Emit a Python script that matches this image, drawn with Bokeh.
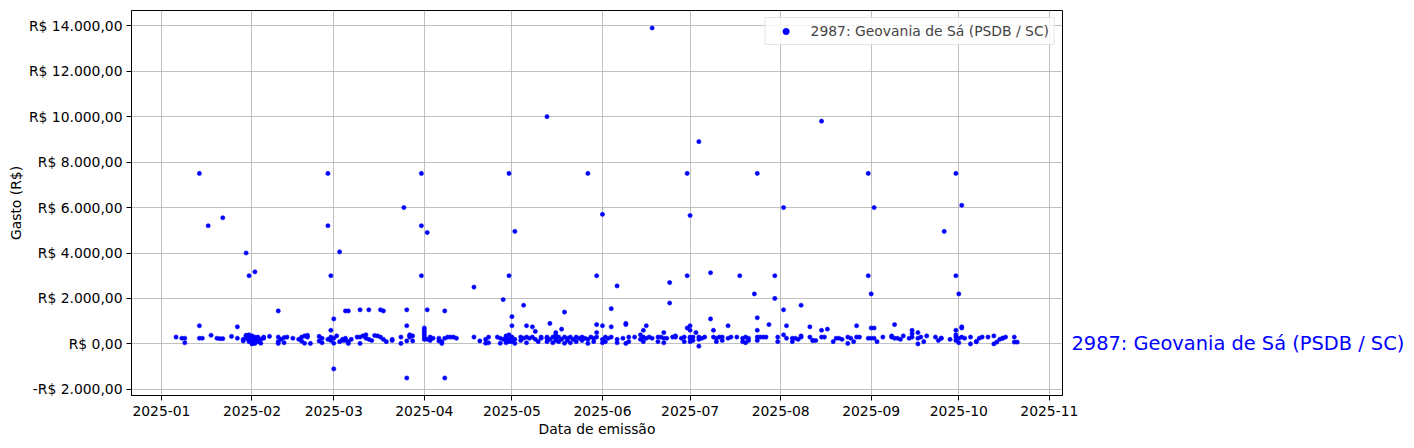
from datetime import datetime
from bokeh.plotting import figure
from bokeh.models import FixedTicker, Range1d, ColumnDataSource, LinearAxis
from bokeh.embed import file_html
from bokeh.resources import INLINE

deputado = "2987: Geovania de Sá (PSDB / SC)"
titulo_x = "Data de emissão"
titulo_y = "Gasto (R$)"

# --- dados (dia do mês, valor em R$) ---
jan_dias = [6, 8, 9, 9, 14, 14, 14, 15, 17, 18, 20, 21, 22, 22, 25, 27, 27, 29, 29, 30,
            30, 30, 30, 30, 31, 31, 31, 31, 31]
jan_valores = [300, 250, 50, 250, 7500, 800, 250, 250, 5200, 380, 250, 230, 5550, 230, 330,
               250, 750, 130, 200, 300, 250, 4000, 380, 350, 3000, 150, 400, 100, 300]

fev_dias = [1, 1, 1, 1, 2, 2, 2, 2, 3, 3, 3, 4, 4, 5, 5, 7, 10, 10, 10, 10, 11, 12, 12, 13,
            15, 17, 18, 18, 19, 19, 20, 20, 21, 24, 24, 25, 25, 27, 27, 27, 28, 28, 28, 28, 28]
fev_valores = [350, 200, 50, 0, 3170, 300, 150, 20, 250, 100, 300, 200, 30, 300, 250, 330,
               1450, 300, 100, 20, 200, 280, 50, 300, 250, 200, 300, 120, 350, 30, 380, 300,
               20, 330, 130, 50, 250, 7500, 5200, 200, 300, 150, 600, 3000, 250]

mar_dias = [1, 1, 1, 1, 2, 3, 3, 4, 4, 5, 5, 5, 6, 6, 6, 7, 9, 10, 10, 10, 11, 12, 12, 13, 13,
            14, 15, 16, 17, 17, 18, 18, 19, 21, 21, 24, 24, 25, 26, 26, 26, 26, 27, 27, 27,
            28, 28, 31, 31, 31]
mar_valores = [1100, -1100, 30, 250, 350, 4050, 100, 150, 200, 1450, 150, 250, 1450, 100, 20,
               200, 300, 300, 1500, 20, 350, 400, 250, 1500, 200, 150, 370, 350, 1500, 300,
               1450, 200, 100, 200, 150, 300, 20, 6000, 1500, 800, -1500, 130, 350, 300, 400,
               130, 350, 7500, 5200, 3000]

abr_dias = [1, 1, 1, 1, 1, 1, 2, 2, 2, 3, 3, 4, 6, 6, 7, 7, 8, 8, 8, 9, 10, 11, 12, 18, 18,
            20, 22, 22, 23, 23, 26, 27, 27, 28, 28, 29, 29, 29, 29, 30, 30, 30, 30, 30]
abr_valores = [700, 600, 500, 400, 300, 200, 4900, 1500, 200, 300, 150, 250, 250, 130, 100,
               20, 1450, -1500, 250, 300, 300, 300, 250, 2500, 300, 130, 200, 30, 300, 50, 300,
               250, 30, 1950, 200, 350, 300, 150, 50, 7500, 3000, 400, 200, 100]

mai_dias = [1, 1, 1, 2, 1, 1, 2, 2, 4, 4, 5, 5, 6, 6, 6, 7, 8, 8, 9, 9, 10, 11, 11, 13, 13,
            13, 13, 14, 14, 15, 15, 16, 16, 16, 16, 17, 17, 18, 18, 19, 19, 19, 20, 20, 21,
            21, 22, 23, 23, 24, 25, 25, 27, 26, 27, 27, 28, 29, 29, 30, 30, 30, 30]
mai_valores = [1200, 300, 100, 4950, 800, 250, 200, 20, 300, 150, 1700, 250, 800, 300, 50,
               250, 750, 300, 550, 200, 100, 300, 250, 10000, 300, 250, 100, 900, 200, 300, 50,
               400, 150, 500, 250, 300, 100, 650, 200, 1400, 300, 30, 250, 150, 300, 50, 200,
               300, 100, 250, 300, 150, 7500, 250, 200, 20, 300, 100, 250, 3000, 850, 500, 300]

jun_dias = [1, 1, 1, 1, 2, 2, 3, 4, 4, 4, 6, 6, 6, 8, 9, 9, 9, 10, 10, 12, 14, 14, 15, 15, 15,
            16, 16, 18, 17, 18, 20, 20, 21, 22, 22, 22, 24, 23, 24, 25, 26, 26, 28, 30, 30,
            30, 29, 29]
jun_valores = [200, 50, 5700, 800, 300, 100, 250, 1550, 750, 300, 2550, 200, 50, 250, 900,
               850, 20, 300, 100, 300, 200, 400, 600, 300, 100, 800, 250, 13900, 300, 250, 300,
               100, 300, 500, 250, 50, 1800, 250, 2700, 300, 350, 300, 250, 7500, 3000, 700,
               300, 100]

jul_dias = [1, 1, 1, 1, 1, 1, 2, 2, 4, 3, 4, 4, 4, 5, 6, 8, 8, 9, 9, 10, 10, 11, 12, 12, 14,
            14, 15, 18, 17, 19, 19, 20, 20, 21, 21, 23, 24, 24, 24, 24, 24, 25, 26, 27, 28,
            30, 30, 31, 31]
jul_valores = [600, 250, 5650, 800, 300, 100, 300, 150, 8900, 500, 300, 200, -100, 250, 300,
               3130, 1100, 600, 300, 250, 100, 300, 300, 150, 800, 250, 300, 3000, 300, 250,
               100, 300, 50, 250, 150, 2200, 7500, 1150, 600, 300, 150, 300, 300, 300, 850,
               3000, 2000, 300, 100]

ago_dias = [2, 2, 2, 3, 3, 5, 5, 6, 7, 8, 8, 8, 11, 11, 12, 12, 13, 15, 15, 15, 16, 17, 19,
            20, 21, 22, 24, 24, 25, 26, 27, 27, 28, 31, 31, 31]
ago_valores = [6000, 1500, 400, 800, 250, 250, 100, 250, 200, 1700, 300, 350, 750, 300, 150,
               150, 150, 9800, 600, 300, 300, 650, 100, 250, 250, 200, 300, 20, 250, 100, 300,
               800, 300, 7500, 3000, 250]

set_dias = [1, 1, 1, 2, 2, 2, 3, 5, 8, 8, 9, 9, 10, 11, 12, 14, 15, 15, 15, 17, 17, 17, 18,
            19, 20, 23, 24, 25, 26, 25, 28, 30, 30, 30, 30, 30, 30]
set_valores = [2200, 700, 250, 6000, 700, 250, 100, 300, 350, 300, 250, 850, 250, 200, 350,
               250, 600, 450, 300, 500, 250, 0, 300, 100, 350, 300, 150, 250, 4950, 250, 200,
               7500, 3000, 600, 300, 400, 150]

out_dias = [1, 1, 1, 2, 2, 2, 2, 3, 5, 5, 7, 7, 8, 9, 11, 13, 13, 14, 15, 16, 16, 17, 20, 20, 21]
out_valores = [2200, 250, 50, 6100, 750, 700, 300, 250, 300, 0, 100, 100, 250, 300, 300, 350,
               0, 80, 200, 250, 250, 300, 300, 80, 80]

meses = [(1, jan_dias, jan_valores), (2, fev_dias, fev_valores), (3, mar_dias, mar_valores),
         (4, abr_dias, abr_valores), (5, mai_dias, mai_valores), (6, jun_dias, jun_valores),
         (7, jul_dias, jul_valores), (8, ago_dias, ago_valores), (9, set_dias, set_valores),
         (10, out_dias, out_valores)]

y_ticks = [-2000, 0, 2000, 4000, 6000, 8000, 10000, 12000, 14000]
y_tick_labels = ["-R$ 2.000,00", "R$ 0,00", "R$ 2.000,00", "R$ 4.000,00", "R$ 6.000,00",
                 "R$ 8.000,00", "R$ 10.000,00", "R$ 12.000,00", "R$ 14.000,00"]
x_tick_labels = ["2025-01", "2025-02", "2025-03", "2025-04", "2025-05", "2025-06",
                 "2025-07", "2025-08", "2025-09", "2025-10", "2025-11"]

# --- montagem ---
datas, valores = [], []
for m, dias, vals in meses:
    for d, v in zip(dias, vals):
        datas.append(datetime(2025, m, d))
        valores.append(v)

EPOCH = datetime(1970, 1, 1)
def ms(dt):
    return (dt - EPOCH).total_seconds() * 1000.0

x_ticks = [ms(datetime(int(s[:4]), int(s[5:]), 1)) for s in x_tick_labels]

vmin, vmax = min(valores), max(valores)
pad = 0.05 * (vmax - vmin)

x_start = datetime(2024, 12, 21, 18)
x_end = datetime(2025, 11, 5, 12)

FONT = "DejaVu Sans"
FS = "13.9px"

p = figure(width=1412, height=446, x_axis_type="datetime",
           output_backend="svg", toolbar_location=None,
           x_range=Range1d(ms(x_start), ms(x_end)),
           y_range=Range1d(vmin - pad, vmax + pad),
           min_border_left=131, min_border_right=350, min_border_top=10, min_border_bottom=51)

p.background_fill_color = "white"
p.border_fill_color = "white"
p.outline_line_color = "black"
p.outline_line_width = 1
p.outline_line_alpha = 1

src = ColumnDataSource(dict(data=datas, valor=valores))
p.scatter("data", "valor", source=src, size=4.2, line_width=0.6, color="blue",
          legend_label=deputado)

p.xaxis.ticker = FixedTicker(ticks=x_ticks)
p.xaxis.major_label_overrides = {t: l for t, l in zip(x_ticks, x_tick_labels)}
p.yaxis.ticker = FixedTicker(ticks=y_ticks)
p.yaxis.major_label_overrides = {t: l for t, l in zip(y_ticks, y_tick_labels)}

for ax in (p.xaxis[0], p.yaxis[0]):
    ax.major_tick_in = 0
    ax.major_tick_out = 5
    ax.minor_tick_in = 0
    ax.minor_tick_out = 0
    ax.major_tick_line_color = "black"
    ax.axis_line_color = "black"
    ax.major_label_text_font = FONT
    ax.major_label_text_font_size = FS
    ax.major_label_text_color = "black"
    ax.axis_label_text_font = FONT
    ax.axis_label_text_font_size = FS
    ax.axis_label_text_font_style = "normal"
    ax.axis_label_text_color = "black"

p.xaxis.axis_label = titulo_x
p.yaxis.axis_label = titulo_y
p.xaxis.major_label_standoff = 5
p.yaxis.major_label_standoff = 4
p.xaxis.axis_label_standoff = 2
p.yaxis.axis_label_standoff = 2

# rótulo do deputado à direita, na altura de R$ 0
rotulo = LinearAxis(ticker=FixedTicker(ticks=[0]),
                    major_label_overrides={0: deputado},
                    major_label_text_color="blue", major_label_text_font=FONT,
                    major_label_text_font_size="19.4px", major_label_standoff=9,
                    major_tick_in=0, major_tick_out=0, minor_tick_in=0, minor_tick_out=0,
                    axis_line_color=None)
p.add_layout(rotulo, "right")

p.grid.grid_line_color = "#b0b0b0"
p.grid.grid_line_width = 0.8

lg = p.legend[0]
lg.location = "top_right"
lg.margin = 7
lg.padding = 5
lg.spacing = 0
lg.glyph_width = 30
lg.glyph_height = 16
lg.label_height = 16
lg.label_standoff = 10
lg.label_text_font = FONT
lg.label_text_font_size = FS
lg.border_line_color = "#cccccc"
lg.border_line_width = 1
lg.background_fill_alpha = 0.8

open("out.html", "w").write(file_html(p, INLINE))
